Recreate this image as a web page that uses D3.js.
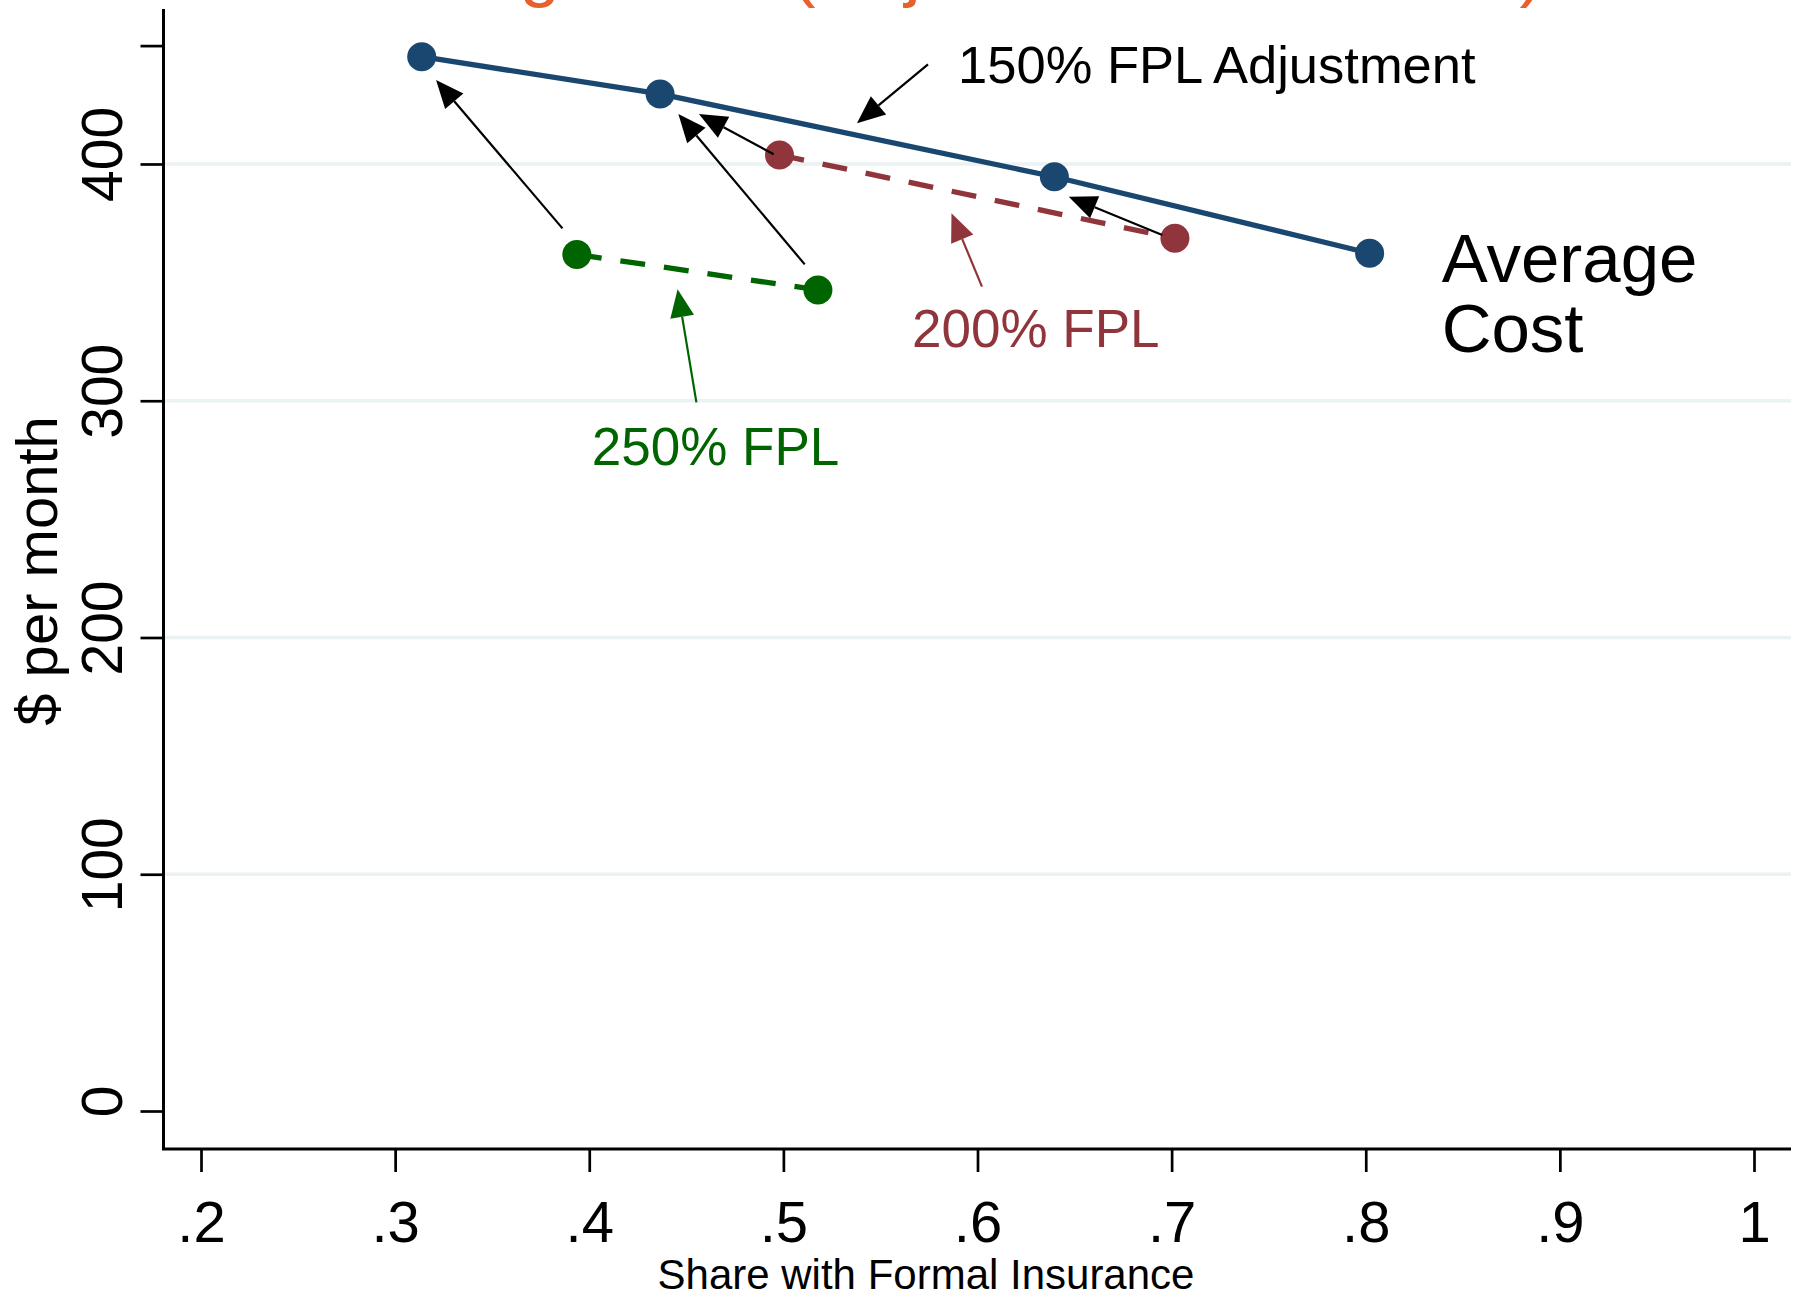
<!DOCTYPE html>
<html>
<head>
<meta charset="utf-8">
<script src="https://cdn.jsdelivr.net/npm/d3@7"></script>
<style>
  body { margin: 0; background: #fff; }
  text { font-family: "Liberation Sans", Arial, Helvetica, sans-serif; }
</style>
</head>
<body>
<svg id="chart" width="1800" height="1297"></svg>
<script>
// average cost curve, 150% FPL adjustment
const avgShare = [0.3137, 0.4365, 0.6396, 0.802]
const avgCost = [445.3, 429.6, 394.6, 362.3]
// 200% FPL
const fpl200Share = [0.498, 0.7017]
const fpl200Cost = [403.8, 368.6]
// 250% FPL
const fpl250Share = [0.3936, 0.5178]
const fpl250Cost = [361.8, 346.8]

// arrows: [x1, y1, x2, y2] (tail -> tip), in data units
const blackArrows = [
  [0.3862, 372.8, 0.3211, 435.5],
  [0.511, 357.6, 0.4459, 421.1],
  [0.495, 404.1, 0.4565, 421.1],
  [0.6952, 370.0, 0.647, 386.2],
  [0.5745, 442.1, 0.5379, 417.2],
]
const redArrow = [0.6023, 348.2, 0.5866, 379.2]
const greenArrow = [0.4552, 299.3, 0.4455, 347.1]

const xTicks = [0.2, 0.3, 0.4, 0.5, 0.6, 0.7, 0.8, 0.9, 1]
const xTickLabels = ['.2', '.3', '.4', '.5', '.6', '.7', '.8', '.9', '1']
const yTicks = [0, 100, 200, 300, 400, 450]
const yTickLabels = ['0', '100', '200', '300', '400', '']
const yGrid = [100, 200, 300, 400]

const navy = '#1a476f',
  maroon = '#90353b',
  green = '#006400'

window.addEventListener('load', makeChart)

function makeChart() {
  const svg = d3.select('#chart')

  const sx = d3.scaleLinear().domain([0.2, 1]).range([201, 1754])
  const sy = d3.scaleLinear().domain([0, 450]).range([1111, 45.6])

  const left = 163.5,
    right = 1791,
    top = 9,
    bottom = 1149

  // title, cut off at the top of the picture
  const title = svg
    .append('text')
    .attr('x', 330)
    .attr('y', -7)
    .attr('font-size', 73)
    .attr('fill', '#e8602c')
  title.append('tspan').text('Average Cost (Adj')
  title.append('tspan').attr('letter-spacing', -2.6).text('usted for 150% FPL)')

  // grid
  svg
    .selectAll('line.grid')
    .data(yGrid)
    .enter()
    .append('line')
    .attr('class', 'grid')
    .attr('x1', left)
    .attr('x2', right)
    .attr('y1', (d) => sy(d))
    .attr('y2', (d) => sy(d))
    .attr('stroke', '#eaf2f3')
    .attr('stroke-width', 3.5)

  // x axis
  const xAxis = d3
    .axisBottom(sx)
    .tickValues(xTicks)
    .tickSize(23)
    .tickFormat((d, i) => xTickLabels[i])
  const gx = svg.append('g').attr('transform', `translate(0,${bottom})`).call(xAxis)
  gx.select('.domain').remove()
  gx.selectAll('.tick line').attr('stroke', '#000').attr('stroke-width', 2.7)
  gx.selectAll('.tick text')
    .attr('y', 93)
    .attr('dy', 0)
    .attr('font-size', 58)
    .attr('font-family', '"Liberation Sans", Arial, sans-serif')
    .attr('fill', '#000')

  // y axis
  const yAxis = d3
    .axisLeft(sy)
    .tickValues(yTicks)
    .tickSize(23)
    .tickFormat((d, i) => yTickLabels[i])
  const gy = svg.append('g').attr('transform', `translate(${left},0)`).call(yAxis)
  gy.select('.domain').remove()
  gy.selectAll('.tick line').attr('stroke', '#000').attr('stroke-width', 2.7)
  gy.selectAll('.tick text')
    .attr('transform', 'rotate(-90)')
    .attr('x', 10)
    .attr('y', -42)
    .attr('dy', 0)
    .attr('text-anchor', 'middle')
    .attr('font-size', 57)
    .attr('font-family', '"Liberation Sans", Arial, sans-serif')
    .attr('fill', '#000')

  // axis lines
  svg
    .append('path')
    .attr('d', `M${left},${top}V${bottom}H${right}`)
    .attr('fill', 'none')
    .attr('stroke', '#000')
    .attr('stroke-width', 3)

  // axis titles
  svg
    .append('text')
    .attr('x', 926)
    .attr('y', 1289)
    .attr('text-anchor', 'middle')
    .attr('font-size', 42)
    .text('Share with Formal Insurance')
  svg
    .append('text')
    .attr('transform', 'translate(57,571) rotate(-90)')
    .attr('text-anchor', 'middle')
    .attr('font-size', 58)
    .text('$ per month')

  // series
  const line = d3
    .line()
    .x((d) => sx(d[0]))
    .y((d) => sy(d[1]))

  function drawSeries(xs, ys, color, dash) {
    const pts = d3.zip(xs, ys)
    svg
      .append('path')
      .datum(pts)
      .attr('d', line)
      .attr('fill', 'none')
      .attr('stroke', color)
      .attr('stroke-width', 5.3)
      .attr('stroke-dasharray', dash)
    svg
      .append('g')
      .selectAll('circle')
      .data(pts)
      .enter()
      .append('circle')
      .attr('cx', (d) => sx(d[0]))
      .attr('cy', (d) => sy(d[1]))
      .attr('r', 14.5)
      .attr('fill', color)
  }

  drawSeries(fpl250Share, fpl250Cost, green, '25,19')
  drawSeries(fpl200Share, fpl200Cost, maroon, '25,19')
  drawSeries(avgShare, avgCost, navy, null)

  // arrows
  function drawArrow(a, color, w) {
    const x1 = sx(a[0]),
      y1 = sy(a[1]),
      x2 = sx(a[2]),
      y2 = sy(a[3])
    const ang = Math.atan2(y2 - y1, x2 - x1)
    const len = 28,
      half = 12
    const bx = x2 - len * Math.cos(ang),
      by = y2 - len * Math.sin(ang)
    svg
      .append('line')
      .attr('x1', x1)
      .attr('y1', y1)
      .attr('x2', bx)
      .attr('y2', by)
      .attr('stroke', color)
      .attr('stroke-width', w)
    const px = -Math.sin(ang) * half,
      py = Math.cos(ang) * half
    svg
      .append('path')
      .attr('d', `M${x2},${y2}L${bx + px},${by + py}L${bx - px},${by - py}Z`)
      .attr('fill', color)
  }

  blackArrows.forEach((a) => drawArrow(a, '#000', 2.2))
  drawArrow(redArrow, maroon, 2.2)
  drawArrow(greenArrow, green, 2.2)

  // labels
  svg
    .append('text')
    .attr('x', sx(0.59))
    .attr('y', sy(434.1))
    .attr('font-size', 52.5)
    .attr('fill', '#000')
    .text('150% FPL Adjustment')
  svg
    .append('text')
    .attr('x', sx(0.5663))
    .attr('y', sy(322.8))
    .attr('font-size', 53)
    .attr('fill', maroon)
    .text('200% FPL')
  svg
    .append('text')
    .attr('x', sx(0.4013))
    .attr('y', sy(272.9))
    .attr('font-size', 53)
    .attr('fill', green)
    .text('250% FPL')
  const avg = svg.append('text').attr('font-size', 69).attr('fill', '#000')
  avg.append('tspan').attr('x', sx(0.8391)).attr('y', sy(350.3)).text('Average')
  avg.append('tspan').attr('x', sx(0.8391)).attr('y', sy(320.7)).text('Cost')
}
</script>
</body>
</html>
